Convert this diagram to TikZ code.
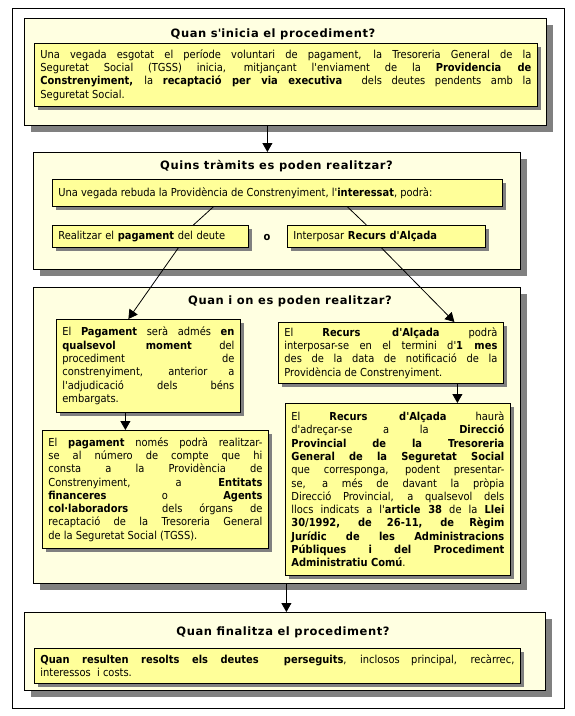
\documentclass[tikz,border=0pt]{standalone}
\usepackage{fontspec}
\setmainfont{DejaVu Sans Condensed}
\newfontfamily\headfont{DejaVu Sans}[LetterSpace=5]
\usetikzlibrary{arrows.meta,shadows}
\definecolor{paleyel}{RGB}{255,255,225}
\definecolor{boxyel}{RGB}{255,255,153}
\definecolor{shadowgr}{RGB}{128,128,128}
\newcommand{\ap}{\textquotesingle}
\begin{document}
\begin{tikzpicture}[x=1pt,y=-1pt,
  outerbox/.style={draw,line width=0.8pt,fill=paleyel,anchor=north west,inner sep=0pt,
    drop shadow={shadow xshift=7pt,shadow yshift=-7pt,fill=shadowgr,opacity=1}},
  textbox/.style={draw,line width=0.8pt,fill=boxyel,anchor=north west,inner xsep=6pt,inner ysep=2pt,
    align=justify,font=\fontsize{11}{13.3}\selectfont,
    drop shadow={shadow xshift=4pt,shadow yshift=-4pt,fill=shadowgr,opacity=1}},
  title/.style={font=\headfont\fontsize{11.5}{13}\selectfont\bfseries},
  link/.style={line width=0.8pt},
  arr/.style={line width=0.8pt,-{Triangle[width=10pt,length=9pt]}}]
\useasboundingbox (0,0) rectangle (574,716);
\draw[line width=0.8pt] (12,8) rectangle (564,708);
% first block
\node[outerbox,minimum width=522pt,minimum height=107pt] (inici) at (24,18) {};
\node[title] (iniciT) at (273,34) {Quan s\ap inicia el procediment?};
\node[textbox,text width=491pt,minimum height=63pt] (iniciX) at (34,43)
  {Una vegada esgotat el període voluntari de pagament, la Tresoreria General de la\linebreak
   Seguretat Social (TGSS) inicia, mitjançant l\ap enviament de la \textbf{Providencia de\linebreak
   Constrenyiment,} la \textbf{recaptació per via executiva} \ dels deutes pendents amb la\linebreak
   Seguretat Social.};
% second block
\node[outerbox,minimum width=487pt,minimum height=117pt] (tram) at (33,152) {};
\node[title] (tramT) at (276.5,166) {Quins tràmits es poden realitzar?};
\node[textbox,text width=438pt,minimum height=27pt] (tramX) at (52,179)
  {Una vegada rebuda la Providència de Constrenyiment, l\ap\textbf{interessat}, podrà:};
\node[textbox,align=left,text width=184pt,minimum height=22pt] (pag) at (52,225)
  {Realitzar el \textbf{pagament} del deute};
\node[font=\fontsize{11}{12}\selectfont\bfseries] (o) at (267,237) {o};
\node[textbox,align=left,text width=186pt,minimum height=22pt] (rec) at (287,225)
  {Interposar \textbf{Recurs d\ap Alçada}};
% third block
\node[outerbox,minimum width=487pt,minimum height=296pt] (quan) at (33,287) {};
\node[title] (quanT) at (290,301) {Quan i on es poden realitzar?};
\node[textbox,text width=172pt,minimum height=93pt] (pag1) at (56,319)
  {El \textbf{Pagament} serà admés \textbf{en\linebreak
   qualsevol moment} del\linebreak
   procediment de\linebreak
   constrenyiment, anterior a\linebreak
   l\ap adjudicació dels béns\linebreak
   embargats.};
\node[textbox,text width=214pt,minimum height=118pt] (pag2) at (42,430)
  {El \textbf{pagament} només podrà realitzar-\linebreak
   se al número de compte que hi\linebreak
   consta a la Providència de\linebreak
   Constrenyiment, a \textbf{Entitats\linebreak
   financeres} o \textbf{Agents\linebreak
   col·laboradors} \ dels órgans de\linebreak
   recaptació de la Tresoreria General\linebreak
   de la Seguretat Social (TGSS).};
\node[textbox,text width=213pt,minimum height=61pt] (rec1) at (278,322)
  {El \textbf{Recurs d\ap Alçada} podrà\linebreak
   interposar-se en el termini d\ap\textbf{1 mes}\linebreak
   des de la data de notificació de la\linebreak
   Providència de Constrenyiment.};
\node[textbox,text width=213pt,minimum height=172pt] (rec2) at (285,403)
  {El \textbf{Recurs d\ap Alçada} haurà\linebreak
   d\ap adreçar-se a la \textbf{Direcció\linebreak
   Provincial de la Tresoreria\linebreak
   General de la Seguretat Social}\linebreak
   que corresponga, podent presentar-\linebreak
   se, a més de davant la pròpia\linebreak
   Direcció Provincial, a qualsevol dels\linebreak
   llocs indicats a l\ap\textbf{article 38} de la \textbf{Llei\linebreak
   30/1992, de 26-11, de Règim\linebreak
   Jurídic de les Administracions\linebreak
   Públiques i del Procediment\linebreak
   Administratiu Comú}.};
% last block
\node[outerbox,minimum width=521pt,minimum height=78pt] (fi) at (24,612) {};
\node[title] (fiT) at (283,632) {Quan finalitza el procediment?};
\node[textbox,text width=474pt,minimum height=35pt] (fiX) at (34,648)
  {\textbf{Quan resulten resolts els deutes \ perseguits}, inclosos principal, recàrrec,\linebreak
   interessos \ i costs.};
% connectors
\draw[arr] ([xshift=-18pt]inici.south) -- ([xshift=-9.5pt]tram.north);
\draw[link] ([xshift=-64pt]tramX.south) -- ([xshift=43pt]pag.north);
\draw[link] ([xshift=70pt]tramX.south) -- ([xshift=-20pt]rec.north);
\draw[arr] ([xshift=28pt]pag.south) -- ([xshift=-20pt]pag1.north);
\draw[arr] ([xshift=-5pt]rec.south) -- ([xshift=63.5pt]rec1.north);
\draw[arr] ([xshift=-23pt]pag1.south) -- ([xshift=-30pt]pag2.north);
\draw[arr] ([xshift=66.5pt]rec1.south) -- ([xshift=59.5pt]rec2.north);
\draw[arr] ([xshift=9.5pt]quan.south) -- ([xshift=1.5pt]fi.north);
\end{tikzpicture}
\end{document}
